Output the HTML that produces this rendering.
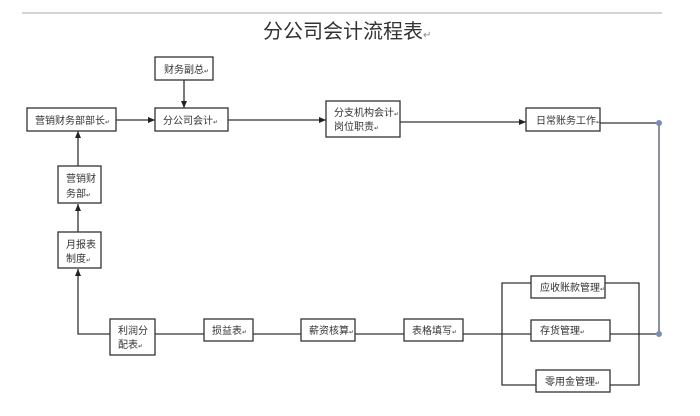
<!DOCTYPE html>
<html><head><meta charset="utf-8"><style>
body{margin:0;background:#fff;}
svg text{font-family:"Liberation Sans","Noto Sans CJK SC",sans-serif;fill:#333;}
</style></head><body>
<svg width="700" height="411" viewBox="0 0 700 411" xmlns="http://www.w3.org/2000/svg">
<defs><marker id="a" markerWidth="8" markerHeight="8" refX="7" refY="4" orient="auto" markerUnits="userSpaceOnUse"><path d="M0,1 L7,4 L0,7 z" fill="#222"/></marker></defs>
<line x1="22" y1="13" x2="662" y2="13" stroke="#aaa" stroke-width="1"/>
<text x="263" y="38" font-size="20">分公司会计流程表<tspan font-size="10" fill="#888">↵</tspan></text>
<g stroke="#333" stroke-width="1.3" fill="none">
<line x1="184" y1="80" x2="184" y2="108" marker-end="url(#a)"/>
<line x1="116" y1="120" x2="155" y2="120" marker-end="url(#a)"/>
<line x1="228" y1="120" x2="326" y2="120" marker-end="url(#a)"/>
<line x1="400" y1="122" x2="526" y2="122" marker-end="url(#a)"/>
<line x1="600" y1="123" x2="659" y2="123"/>
<line x1="659" y1="123" x2="659" y2="334" stroke="#556"/>
<line x1="78" y1="166" x2="78" y2="131" marker-end="url(#a)"/>
<line x1="78" y1="232" x2="78" y2="204" marker-end="url(#a)"/>
<polyline points="110,334 78,334 78,269" marker-end="url(#a)"/>
<line x1="155" y1="334" x2="204" y2="334"/>
<line x1="253" y1="334" x2="301" y2="334"/>
<line x1="355" y1="334" x2="404" y2="334"/>
<line x1="463" y1="334" x2="659" y2="334"/>
<polyline points="531,283 502,283 502,385 536,385"/>
<polyline points="605,283 639,283 639,385 610,385"/>
</g>
<circle cx="659" cy="123" r="3" fill="#7a8fb0"/>
<circle cx="659" cy="334" r="3" fill="#7a8fb0"/>
<g stroke="#333" stroke-width="1.3" fill="#fff">
<rect x="155" y="57" width="58" height="23"/>
<rect x="27" y="108" width="89" height="23"/>
<rect x="155" y="108" width="73" height="23"/>
<rect x="326" y="101" width="74" height="36"/>
<rect x="526" y="108" width="74" height="23"/>
<rect x="58" y="166" width="43" height="37"/>
<rect x="58" y="232" width="43" height="36"/>
<rect x="110" y="319" width="45" height="36"/>
<rect x="204" y="319" width="49" height="22"/>
<rect x="301" y="319" width="54" height="22"/>
<rect x="404" y="319" width="59" height="22"/>
<rect x="531" y="276" width="74" height="22"/>
<rect x="531" y="320" width="79" height="21"/>
<rect x="536" y="370" width="74" height="22"/>
</g>
<g font-size="10">
<text x="164" y="73">财务副总<tspan font-size="6">↵</tspan></text>
<text x="35" y="124">营销财务部部长<tspan font-size="6">↵</tspan></text>
<text x="163" y="124">分公司会计<tspan font-size="6">↵</tspan></text>
<text x="334" y="116">分支机构会计<tspan font-size="6">↵</tspan></text>
<text x="334" y="130">岗位职责<tspan font-size="6">↵</tspan></text>
<text x="536" y="124">日常账务工作<tspan font-size="6">↵</tspan></text>
<text x="66" y="182">营销财</text>
<text x="66" y="197">务部<tspan font-size="6">↵</tspan></text>
<text x="66" y="248">月报表</text>
<text x="66" y="262">制度<tspan font-size="6">↵</tspan></text>
<text x="118" y="334">利润分</text>
<text x="118" y="348">配表<tspan font-size="6">↵</tspan></text>
<text x="212" y="334">损益表<tspan font-size="6">↵</tspan></text>
<text x="309" y="334">薪资核算<tspan font-size="6">↵</tspan></text>
<text x="412" y="334">表格填写<tspan font-size="6">↵</tspan></text>
<text x="540" y="291">应收账款管理<tspan font-size="6">↵</tspan></text>
<text x="540" y="334">存货管理<tspan font-size="6">↵</tspan></text>
<text x="545" y="385">零用金管理<tspan font-size="6">↵</tspan></text>
</g>
</svg>
</body></html>
